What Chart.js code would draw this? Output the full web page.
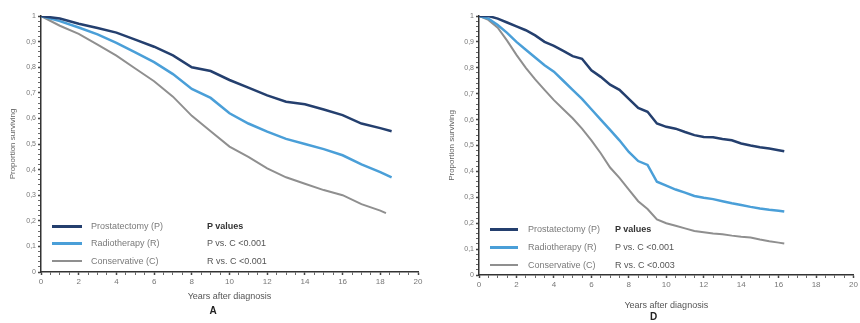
<!DOCTYPE html>
<html>
<head>
<meta charset="utf-8">
<script src="https://cdn.jsdelivr.net/npm/chart.js@4"></script>
<style>
  body { margin: 0; background: #fff; font-family: "Liberation Sans", Arial, sans-serif; }
  .panel { position: absolute; top: 0; width: 430px; height: 323px; }
  .leg { position: absolute; font-size: 9px; color: #7a7a7a; white-space: nowrap; line-height: 10px; }
  .leg.dark { color: #555; }
  .leg.bold { font-weight: bold; color: #333; }
  .swatch { position: absolute; height: 3px; }
</style>
</head>
<body>
<div class="panel" style="left:0"><canvas id="chartA" width="430" height="323"></canvas></div>
<div class="panel" style="left:430px"><canvas id="chartD" width="430" height="323"></canvas></div>
<div id="legends"></div>
<script>
// --- Panel A data (years after diagnosis, proportion surviving) ---
const yearsA_PR = [0,1,2,3,4,5,6,7,8,9,10,11,12,13,14,15,16,17,18,18.6];
const yearsA_C = [0,1,2,3,4,5,6,7,8,9,10,11,12,13,14,15,16,17,18,18.3];
const prostA = [1,0.99,0.97,0.953,0.935,0.908,0.88,0.846,0.80,0.785,0.75,0.72,0.69,0.665,0.655,0.635,0.613,0.58,0.562,0.55];
const radioA = [1,0.98,0.955,0.928,0.895,0.858,0.82,0.773,0.715,0.68,0.62,0.58,0.548,0.52,0.50,0.48,0.456,0.42,0.39,0.37];
const consA = [1,0.962,0.93,0.888,0.845,0.795,0.745,0.685,0.61,0.55,0.49,0.45,0.405,0.37,0.345,0.32,0.30,0.265,0.24,0.23];

// --- Panel D data ---
const yearsD = [0,0.5,1,1.5,2,2.5,3,3.5,4,4.5,5,5.5,6,6.5,7,7.5,8,8.5,9,9.5,10,10.5,11,11.5,12,12.5,13,13.5,14,14.5,15,15.5,16,16.3];
const prostD = [1,1,0.99,0.975,0.96,0.945,0.925,0.9,0.885,0.865,0.845,0.835,0.79,0.765,0.735,0.715,0.68,0.645,0.63,0.585,0.572,0.565,0.552,0.54,0.533,0.532,0.525,0.52,0.508,0.5,0.493,0.488,0.482,0.478];
const radioD = [1,0.99,0.965,0.935,0.9,0.87,0.84,0.81,0.785,0.75,0.715,0.68,0.64,0.6,0.56,0.52,0.475,0.44,0.425,0.36,0.345,0.33,0.318,0.305,0.298,0.293,0.285,0.277,0.27,0.263,0.257,0.252,0.248,0.245];
const consD = [1,0.985,0.955,0.905,0.85,0.8,0.755,0.715,0.675,0.64,0.605,0.565,0.52,0.47,0.415,0.375,0.33,0.285,0.255,0.215,0.2,0.19,0.18,0.17,0.165,0.16,0.157,0.152,0.148,0.145,0.137,0.13,0.125,0.122];

const seriesNames = ['Prostatectomy (P)', 'Radiotherapy (R)', 'Conservative (C)'];
const seriesColors = ['#243f6e', '#4a9fd8', '#8f8f8f'];
const seriesWidths = [2.5, 2.5, 2];
const pValuesA = ['P values', 'P vs. C <0.001', 'R vs. C <0.001'];
const pValuesD = ['P values', 'P vs. C <0.001', 'R vs. C <0.003'];

function toPoints(xs, ys) {
    return xs.map((x, i) => ({ x: x, y: ys[i] }));
}

function yLabel(v) {
    const r = Math.round(v * 100);
    if (r % 10 !== 0) return '';
    if (r === 100) return '1';
    if (r === 0) return '0';
    return '0,' + (r / 10);
}

function xLabel(v) {
    const r = Math.round(v * 10);
    return r % 20 === 0 ? String(r / 10) : '';
}

function makeChart(id, sets, geo, letter) {
    const ctx = document.getElementById(id).getContext('2d');
    return new Chart(ctx, {
        type: 'line',
        data: {
            datasets: sets.map((pts, i) => ({
                label: seriesNames[i],
                data: pts,
                borderColor: seriesColors[i],
                borderWidth: seriesWidths[i],
                pointRadius: 0,
                tension: 0,
                fill: false
            }))
        },
        options: {
            responsive: false,
            animation: false,
            layout: { padding: { left: geo.padLeft, right: geo.padRight, top: geo.padTop, bottom: geo.padBottom } },
            plugins: {
                legend: { display: false },
                tooltip: { enabled: false },
                title: {
                    display: true,
                    position: 'bottom',
                    text: letter,
                    color: '#222',
                    font: { family: 'Liberation Sans', size: 10, weight: 'bold' },
                    padding: { top: geo.letterPad, bottom: 0 }
                }
            },
            scales: {
                x: {
                    type: 'linear',
                    min: 0,
                    max: 20,
                    afterFit: (s) => { s.height = geo.xHeight; },
                    border: { color: '#333', width: 1.5 },
                    grid: {
                        drawOnChartArea: false,
                        tickLength: 3,
                        tickColor: '#444',
                        tickWidth: (c) => (Math.round(c.tick.value * 10) % 20 === 0 ? 1.5 : 0.8)
                    },
                    ticks: {
                        stepSize: 0.5,
                        autoSkip: false,
                        maxRotation: 0,
                        padding: 2,
                        color: '#777',
                        font: { family: 'Liberation Sans', size: 8 },
                        callback: xLabel
                    },
                    title: {
                        display: true,
                        text: 'Years after diagnosis',
                        color: '#555',
                        font: { family: 'Liberation Sans', size: 9 },
                        padding: 0
                    }
                },
                y: {
                    min: 0,
                    max: 1,
                    afterFit: (s) => { s.width = geo.yWidth; },
                    border: { color: '#333', width: 1.5 },
                    grid: {
                        drawOnChartArea: false,
                        tickLength: 3,
                        tickColor: '#444',
                        tickWidth: (c) => (Math.round(c.tick.value * 100) % 10 === 0 ? 1.5 : 0.8)
                    },
                    ticks: {
                        stepSize: 0.02,
                        autoSkip: false,
                        padding: 2,
                        color: '#777',
                        font: { family: 'Liberation Sans', size: 7 },
                        callback: yLabel
                    },
                    title: {
                        display: true,
                        text: 'Proportion surviving',
                        color: '#666',
                        font: { family: 'Liberation Sans', size: 8 },
                        padding: 0
                    }
                }
            }
        }
    });
}

// Legend drawn as HTML inside each plot area
function addLegend(left, pValues, rows) {
    const box = document.getElementById('legends');
    rows.forEach((r, i) => {
        const sw = document.createElement('div');
        sw.className = 'swatch';
        sw.style.left = left.sw + 'px';
        sw.style.width = left.swW + 'px';
        sw.style.top = (r - 1.5) + 'px';
        sw.style.background = seriesColors[i];
        sw.style.height = (i === 2 ? 2 : 3) + 'px';
        box.appendChild(sw);

        const t = document.createElement('div');
        t.className = 'leg';
        t.style.left = left.txt + 'px';
        t.style.top = (r - 5) + 'px';
        t.textContent = seriesNames[i];
        box.appendChild(t);

        const p = document.createElement('div');
        p.className = 'leg ' + (i === 0 ? 'bold' : 'dark');
        p.style.left = left.p + 'px';
        p.style.top = (r - 5) + 'px';
        p.textContent = pValues[i];
        box.appendChild(p);
    });
}

document.addEventListener('DOMContentLoaded', () => {
    makeChart('chartA',
        [toPoints(yearsA_PR, prostA), toPoints(yearsA_PR, radioA), toPoints(yearsA_C, consA)],
        { padLeft: 8, padRight: 12, padTop: 16, padBottom: 6, xHeight: 30, yWidth: 33, letterPad: 3 },
        'A');
    makeChart('chartD',
        [toPoints(yearsD, prostD), toPoints(yearsD, radioD), toPoints(yearsD, consD)],
        { padLeft: 17, padRight: 0, padTop: 16, padBottom: 0, xHeight: 36, yWidth: 32, letterPad: 0 },
        'D');

    addLegend({ sw: 52, swW: 30, txt: 91, p: 207 }, pValuesA, [226, 243, 261]);
    addLegend({ sw: 490, swW: 28, txt: 528, p: 615 }, pValuesD, [229, 247, 265]);
});
</script>
</body>
</html>
